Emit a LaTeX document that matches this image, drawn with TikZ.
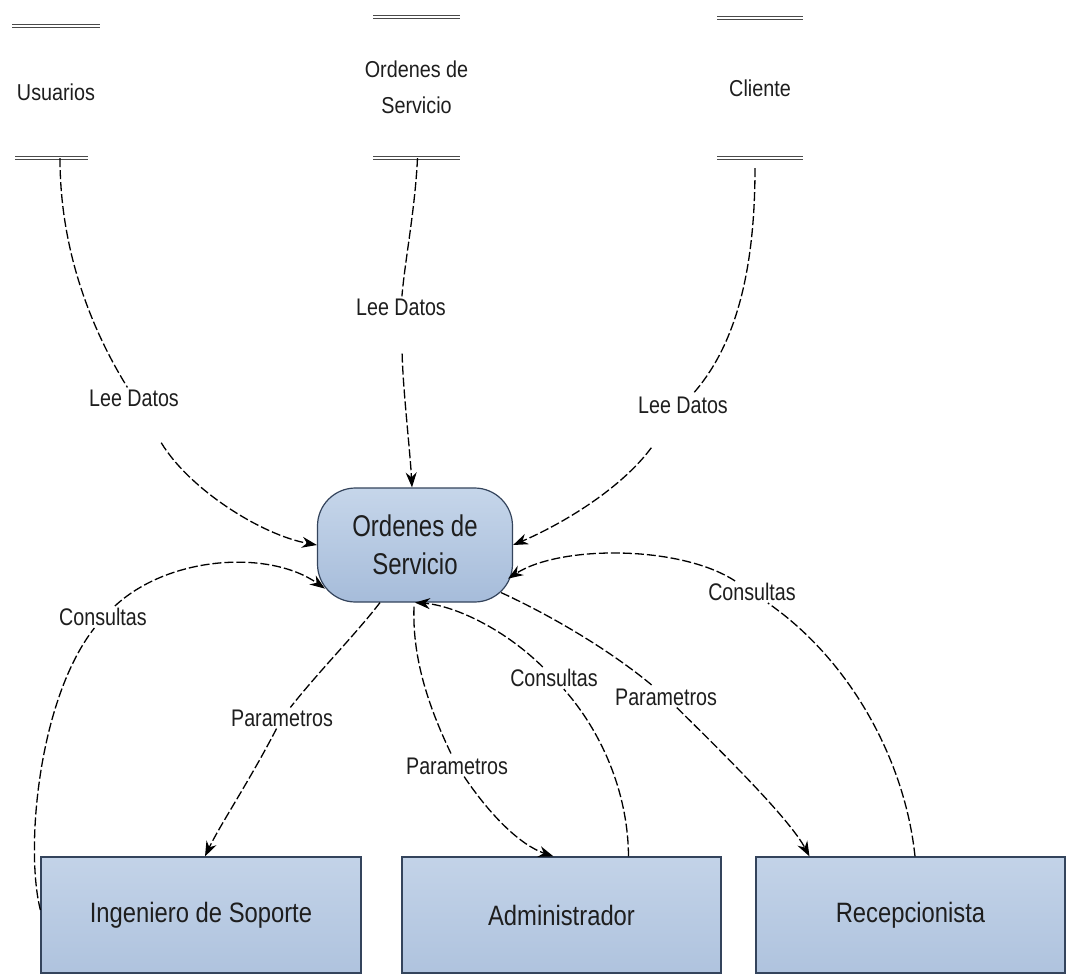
\documentclass[tikz,border=0pt]{standalone}
\usepackage{fontspec}
\setmainfont{Liberation Sans}
\newfontfamily\storefont[FakeStretch=0.86]{Liberation Sans}
\newfontfamily\procfont[FakeStretch=0.8]{Liberation Sans}
\newfontfamily\actorfont[FakeStretch=0.85]{Liberation Sans}
\newfontfamily\flowfont[FakeStretch=0.82]{Liberation Sans}
\usetikzlibrary{arrows.meta,calc}

\definecolor{ink}{HTML}{1E1E1E}
\definecolor{edgeblue}{HTML}{34445C}
\definecolor{fillhi}{HTML}{C6D6EA}
\definecolor{filllo}{HTML}{A6BCDA}
\definecolor{boxhi}{HTML}{C3D3E8}
\definecolor{boxlo}{HTML}{AFC3DE}
\definecolor{rulegrey}{HTML}{4A4A4A}

\begin{document}
\begin{tikzpicture}[x=1pt,y=-1pt,
  store/.style={rectangle, inner sep=0pt, align=center, text=ink,
    font=\storefont\fontsize{23}{36}\selectfont},
  storeline/.style={draw=rulegrey, double=white, double distance=2.2pt, line width=1.1pt},
  process/.style={rectangle, rounded corners=38pt, draw=edgeblue, line width=1.2pt,
    top color=fillhi, bottom color=filllo, minimum width=195pt, minimum height=114pt,
    align=center, text=ink, font=\procfont\fontsize{30}{38}\selectfont},
  actor/.style={rectangle, draw=edgeblue, line width=1.2pt, top color=boxhi, bottom color=boxlo,
    minimum height=116pt, text=ink, font=\actorfont\fontsize{28}{32}\selectfont},
  flowlabel/.style={inner sep=2pt, text=ink, font=\flowfont\fontsize{24}{26}\selectfont},
  flow/.style={draw=black, line width=1.3pt, dash pattern=on 9pt off 3pt},
  arr/.style={-{Stealth[length=15pt,width=11pt]}}
]
% canvas
\path[fill=white] (0,0) rectangle (1068,975);
\useasboundingbox (0,0) rectangle (1068,975);

% data stores (text nodes; the double rules mark their top and bottom)
\node[store, minimum height=132pt] (u) at (56,92) {Usuarios};
\node[store, minimum height=141pt] (o) at (416.5,87.5) {Ordenes de\\Servicio};
\node[store, minimum height=140pt] (c) at (760,88) {Cliente};
\draw[storeline] ([xshift=-44pt]u.north) -- ([xshift=44pt]u.north);
\draw[storeline] ([xshift=-41pt]u.south) -- ([xshift=32pt]u.south);
\draw[storeline] ([xshift=-43.5pt]o.north) -- ([xshift=43.5pt]o.north);
\draw[storeline] ([xshift=-43.5pt]o.south) -- ([xshift=43.5pt]o.south);
\draw[storeline] ([xshift=-43pt]c.north) -- ([xshift=43pt]c.north);
\draw[storeline] ([xshift=-43pt]c.south) -- ([xshift=43pt]c.south);

% process
\node[process] (proc) at (415,545) {Ordenes de\\Servicio};

% external entities
\node[actor, minimum width=320pt] (ing) at (201,915) {Ingeniero de Soporte};
\node[actor, minimum width=319pt] (adm) at (561.5,915) {Administrador};
\node[actor, minimum width=309pt] (rec) at (910.5,915) {Recepcionista};

% flow labels
\node[flowlabel] (lee1) at (134,398) {Lee Datos};
\node[flowlabel] (lee2) at (401,307) {Lee Datos};
\node[flowlabel] (lee3) at (683,405) {Lee Datos};
\node[flowlabel] (con1) at (103,617) {Consultas};
\node[flowlabel] (con2) at (554,678) {Consultas};
\node[flowlabel] (con3) at (752,592) {Consultas};
\node[flowlabel] (par1) at (282,718) {Parametros};
\node[flowlabel] (par2) at (457,766) {Parametros};
\node[flowlabel] (par3) at (666,697) {Parametros};

% reads from the stores
\draw[flow] ([xshift=4pt]u.south) .. controls (60,260) and (98,340) .. (lee1);
\draw[flow,arr,shorten <=40pt] (lee1) .. controls (190,490) and (262,535) .. (proc.west);
\draw[flow] ([xshift=1pt]o.south) .. controls (415,210) and (405,260) .. (lee2);
\draw[flow,arr,shorten <=36pt] (lee2) .. controls (403,390) and (410,450) .. ([xshift=-3pt]proc.north);
\draw[flow,shorten <=10pt] ([xshift=-5pt]c.south) .. controls (755,280) and (732,350) .. (lee3);
\draw[flow,arr,shorten <=40pt] (lee3) .. controls (620,490) and (560,525) .. (proc.east);

% queries from the entities
\draw[flow] ([yshift=5pt]ing.west) .. controls (25,850) and (38,700) .. (con1);
\draw[flow,arr] (con1) .. controls (170,555) and (270,550) .. ([xshift=8pt,yshift=14pt]proc.south west);
\draw[flow] ([xshift=67pt]adm.north) .. controls (628,790) and (600,730) .. (con2);
\draw[flow,arr] (con2) .. controls (500,625) and (450,605) .. (proc.south);
\draw[flow] ([xshift=4.5pt]rec.north) .. controls (905,760) and (850,660) .. (con3);
\draw[flow,arr] (con3) .. controls (680,545) and (560,545) .. ([xshift=-5pt,yshift=24pt]proc.south east);

% parameters to the entities
\draw[flow] ([xshift=-35pt]proc.south) .. controls (355,635) and (320,670) .. (par1);
\draw[flow,arr] (par1) .. controls (250,780) and (220,825) .. ([xshift=4pt]ing.north);
\draw[flow] ([xshift=-1pt,yshift=-4pt]proc.south) .. controls (412,660) and (430,710) .. (par2);
\draw[flow,arr] (par2) .. controls (490,815) and (520,845) .. ([xshift=-8pt]adm.north);
\draw[flow] ([xshift=-12pt,yshift=10pt]proc.south east) .. controls (550,615) and (610,650) .. (par3);
\draw[flow,arr] (par3) .. controls (730,760) and (790,820) .. ([xshift=-101pt]rec.north);
\end{tikzpicture}
\end{document}
